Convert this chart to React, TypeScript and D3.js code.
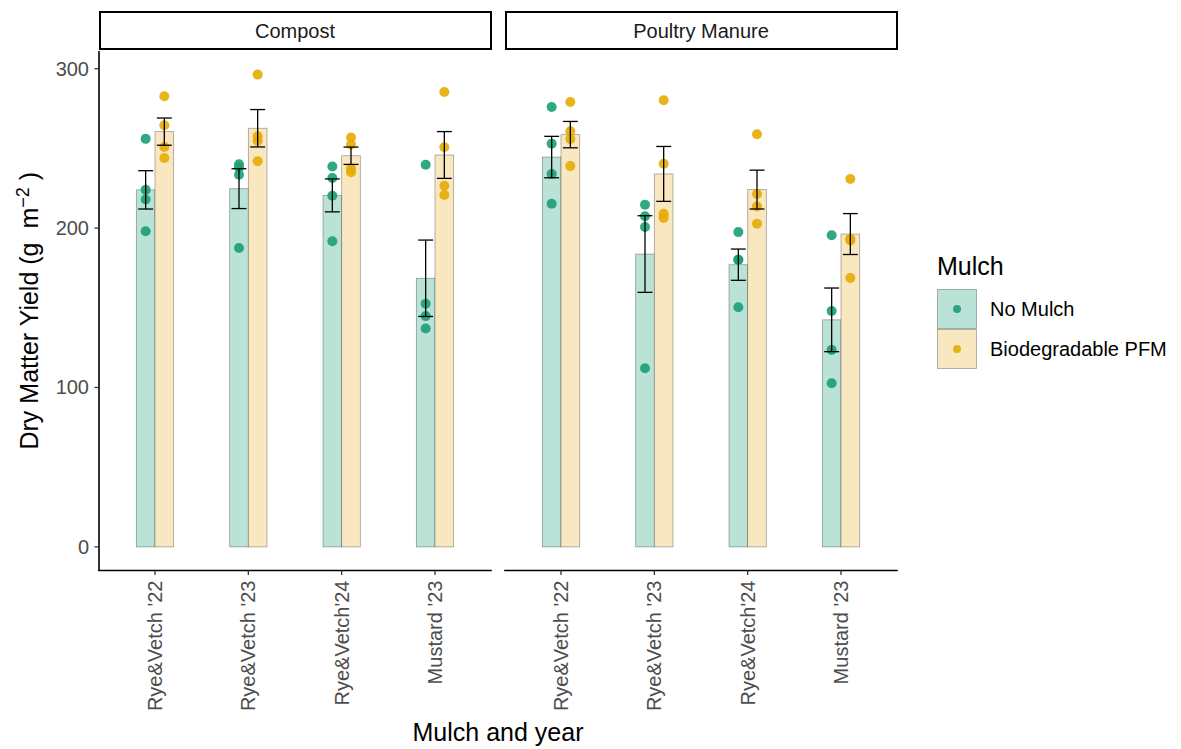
import * as d3 from "d3";
import React from "react";

const width = 1181;
const height = 749;
const panelTop = 51;
const panelBottom = 570.5;
const panels = [
  { left: 99, right: 491 },
  { left: 505, right: 897 },
];
const font = "'Liberation Sans', Arial, Helvetica, sans-serif";

// data (4 plots per group)
const facets = ["Compost", "Poultry Manure"];
const categories = ["Rye&Vetch '22", "Rye&Vetch '23", "Rye&Vetch'24", "Mustard '23"];
const mulchLevels = ["No Mulch", "Biodegradable PFM"];

const compostNoMulch = [
  [256, 224, 218, 198],
  [240, 238, 233.5, 187.5],
  [238.7, 231.4, 220.3, 191.7],
  [239.8, 152.5, 144.8, 137],
];
const compostPFM = [
  [282.7, 264.5, 250.9, 244],
  [296.3, 257.6, 254.8, 241.9],
  [256.9, 252.4, 237.2, 235.1],
  [285.4, 250.7, 226.6, 220.8],
];
const poultryNoMulch = [
  [276, 253, 234, 215.3],
  [214.7, 207.4, 200.7, 112.1],
  [197.5, 180.2, 180.2, 150.3],
  [195.5, 148, 123.6, 102.7],
];
const poultryPFM = [
  [279.1, 260.7, 255.9, 238.9],
  [280.2, 240.4, 209, 206.4],
  [258.9, 221.4, 213.6, 202.8],
  [230.8, 193.3, 192.3, 168.7],
];
const yTicks = [0, 100, 200, 300];

const pointColors = ["#1b9e77", "#e6ab02"];
const fillColors = ["#bbe2d6", "#f8e7c0"];

const seriesByFacet = [
  [compostNoMulch, compostPFM],
  [poultryNoMulch, poultryPFM],
];

// summary: mean +- standard error
const groups = facets.flatMap((facet, fi) =>
  categories.flatMap((cat, ci) =>
    mulchLevels.map((m, mi) => {
      const vals = seriesByFacet[fi][mi][ci];
      const mean = d3.mean(vals) as number;
      const se = (d3.deviation(vals) as number) / Math.sqrt(vals.length);
      return { facet: fi, cat, mulch: mi, vals, mean, se };
    })
  )
);

const yMax = d3.max(groups, (g) => Math.max(d3.max(g.vals) as number, g.mean + g.se)) as number;
const yPad = yMax * 0.05;
const yScale = d3
  .scaleLinear()
  .domain([-yPad, yMax + yPad])
  .range([panelBottom, panelTop]);

const xScales = panels.map((p) =>
  d3.scalePoint<string>().domain(categories).range([p.left, p.right]).padding(0.6)
);

const App = () => {
  const step = xScales[0].step();
  const barW = step * 0.2;
  const capW = step * 0.16;

  return (
    <svg
      width={width}
      height={height}
      style={{ position: "absolute", left: 0, top: 0, background: "#fff" }}
      fontFamily={font}
    >
      {/* strips */}
      {panels.map((p, i) => (
        <g key={"strip" + i}>
          <rect
            x={p.left + 1}
            y={12}
            width={p.right - p.left - 1}
            height={37}
            fill="#fff"
            stroke="#000"
            strokeWidth={2}
          />
          <text
            x={(p.left + p.right) / 2}
            y={38}
            textAnchor="middle"
            fontSize={20}
            fill="#1a1a1a"
          >
            {facets[i]}
          </text>
        </g>
      ))}

      {/* bars */}
      {groups.map((g, i) => {
        const cx = xScales[g.facet](g.cat) as number;
        const x0 = g.mulch === 0 ? cx - barW : cx;
        return (
          <rect
            key={"bar" + i}
            x={x0}
            y={yScale(g.mean)}
            width={barW}
            height={yScale(0) - yScale(g.mean)}
            fill={fillColors[g.mulch]}
            stroke="#000"
            strokeOpacity={0.35}
            strokeWidth={0.8}
          />
        );
      })}

      {/* points */}
      {groups.map((g, i) => {
        const cx = (xScales[g.facet](g.cat) as number) + (g.mulch === 0 ? -barW / 2 : barW / 2);
        return (
          <g key={"pts" + i}>
            {g.vals.map((v, j) => (
              <circle
                key={j}
                cx={cx}
                cy={yScale(v)}
                r={5}
                fill={pointColors[g.mulch]}
                fillOpacity={0.9}
              />
            ))}
          </g>
        );
      })}

      {/* error bars */}
      {groups.map((g, i) => {
        const cx = (xScales[g.facet](g.cat) as number) + (g.mulch === 0 ? -barW / 2 : barW / 2);
        const yt = yScale(g.mean + g.se);
        const yb = yScale(g.mean - g.se);
        return (
          <g key={"err" + i} stroke="#000" strokeWidth={1.3}>
            <line x1={cx} x2={cx} y1={yt} y2={yb} />
            <line x1={cx - capW / 2} x2={cx + capW / 2} y1={yt} y2={yt} />
            <line x1={cx - capW / 2} x2={cx + capW / 2} y1={yb} y2={yb} />
          </g>
        );
      })}

      {/* y axis (left panel only) */}
      <line x1={99} x2={99} y1={panelTop} y2={panelBottom + 0.5} stroke="#000" strokeWidth={1.6} />
      {yTicks.map((t) => (
        <g key={"yt" + t}>
          <line x1={94.5} x2={99} y1={yScale(t)} y2={yScale(t)} stroke="#333" strokeWidth={1.3} />
          <text
            x={89}
            y={yScale(t)}
            dy="0.35em"
            textAnchor="end"
            fontSize={20}
            fill="#4d4d4d"
          >
            {t}
          </text>
        </g>
      ))}

      {/* x axes */}
      {panels.map((p, i) => (
        <g key={"xa" + i}>
          <line
            x1={p.left - 0.8}
            x2={p.right + 0.8}
            y1={panelBottom}
            y2={panelBottom}
            stroke="#000"
            strokeWidth={1.6}
          />
          {categories.map((c) => {
            const x = xScales[i](c) as number;
            return (
              <g key={c}>
                <line x1={x} x2={x} y1={panelBottom} y2={panelBottom + 4.5} stroke="#333" strokeWidth={1.3} />
                <text
                  transform={`translate(${x},${panelBottom + 10}) rotate(-90)`}
                  dy="0.35em"
                  textAnchor="end"
                  fontSize={20}
                  fill="#4d4d4d"
                >
                  {c}
                </text>
              </g>
            );
          })}
        </g>
      ))}

      {/* axis titles */}
      <text x={(99 + 897) / 2} y={741} textAnchor="middle" fontSize={25} fill="#000">
        Mulch and year
      </text>
      <text
        transform={`translate(38,${(panelTop + panelBottom) / 2}) rotate(-90)`}
        textAnchor="middle"
        fontSize={25}
        fill="#000"
      >
        {"Dry Matter Yield (g\u00a0\u00a0m"}
        <tspan dy={-9} fontSize={18}>{"\u2212"}2</tspan>
        <tspan dy={9}>{"\u00a0)"}</tspan>
      </text>

      {/* legend */}
      <text x={937} y={275} fontSize={25} fill="#000">
        Mulch
      </text>
      {mulchLevels.map((m, i) => {
        const ky = 289 + i * 40;
        return (
          <g key={"lg" + i}>
            <rect
              x={937.5}
              y={ky + 0.5}
              width={39}
              height={39}
              fill={fillColors[i]}
              stroke="#000"
              strokeOpacity={0.35}
              strokeWidth={0.8}
            />
            <circle cx={957} cy={ky + 20} r={4} fill={pointColors[i]} fillOpacity={0.9} />
            <text x={990} y={ky + 20} dy="0.35em" fontSize={20} fill="#000">
              {m}
            </text>
          </g>
        );
      })}
    </svg>
  );
};

export default App;
